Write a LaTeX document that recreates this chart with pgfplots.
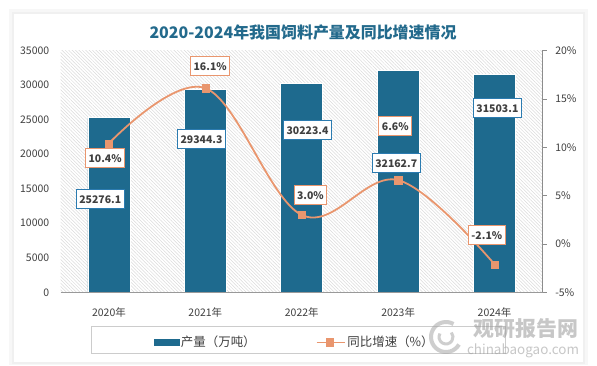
\documentclass[border=0pt]{standalone}
\usepackage{fontspec}
\setmainfont{Noto Sans CJK SC}
\usepackage{pgfplots}
\pgfplotsset{compat=1.18}
\usetikzlibrary{patterns.meta}
\definecolor{barblue}{HTML}{1E6A8E}
\definecolor{lineor}{HTML}{E9966E}
\definecolor{titleblue}{HTML}{236A8C}
\definecolor{lblblue}{HTML}{2B7BB0}
\definecolor{txt}{HTML}{404040}
\begin{document}
\begin{tikzpicture}[x=1bp,y=1bp,
  lbl/.style={fill=white, text=txt, font=\fontsize{10.5}{12}\selectfont\bfseries, inner xsep=3bp, inner ysep=2.5bp, line width=0.9bp, minimum height=19bp},
  yr/.style={font=\fontsize{10.5}{12}\selectfont, text=txt, yshift=-20.5bp}]
\fill[white] (0,0) rectangle (597,365);
\fill[black!3] (9,0) rectangle (588,356);
\fill[black!6] (12,1) rectangle (585,353);
\fill[white] (14,3) rectangle (583,351);
\node[font=\fontsize{16}{18}\selectfont\bfseries, text=titleblue] at (303,332) {2020-2024年我国饲料产量及同比增速情况};
\draw[black!20, line width=0.8bp] (91.5,12) rectangle (505,38.5);

\begin{axis}[name=ax2, at={(63,75)}, anchor=south west, scale only axis, width=482bp, height=242bp,
  xmin=-0.5, xmax=4.5, ymin=-5, ymax=20,
  axis y line*=right, axis x line=none,
  ytick={-5,0,5,10,15,20},
  /pgf/number format/assume math mode=true,
  yticklabel={\pgfmathprintnumber{\tick}\%},
  y axis line style={draw=black!45, line width=0.6bp},
  ytick style={draw=black!45, line width=0.6bp},
  tick align=outside, major tick length=4bp,
  tick label style={font=\fontsize{10.5}{12}\selectfont, text=txt},
  yticklabel style={xshift=5bp},
  axis background/.style={pattern={Lines[angle=-45,distance=2.4bp,line width=0.5bp]}, pattern color=black!14},
  clip=false]
\end{axis}

\begin{axis}[name=ax1, at={(ax2.south west)}, anchor=south west, scale only axis, width=482bp, height=242bp,
  xmin=-0.5, xmax=4.5, ymin=0, ymax=35000, ybar, bar width=42bp,
  ytick={0,5000,...,35000}, scaled y ticks=false,
  /pgf/number format/assume math mode=true,
  /pgf/number format/set thousands separator={},
  axis x line=none, axis y line*=left,
  y axis line style={draw=none},
  major tick length=0pt,
  tick label style={font=\fontsize{10.5}{12}\selectfont, text=txt},
  yticklabel style={xshift=-8bp},
  clip=false]
\addplot[fill=barblue, draw=white, line width=0.6bp] coordinates {(0,25276.1)(1,29344.3)(2,30223.4)(3,32162.7)(4,31503.1)};
\node[lbl, draw=lblblue] at (axis cs:-0.09,13450) {25276.1};
\node[lbl, draw=lblblue] at (axis cs:0.96,22128) {29344.3};
\node[lbl, draw=lblblue] at (axis cs:2.06,23430) {30223.4};
\node[lbl, draw=lblblue] at (axis cs:2.98,18657) {32162.7};
\node[lbl, draw=lblblue] at (axis cs:4.03,26612) {31503.1};
\end{axis}

\begin{axis}[at={(ax2.south west)}, anchor=south west, scale only axis, width=482bp, height=242bp,
  xmin=-0.5, xmax=4.5, ymin=-5, ymax=20,
  axis x line=none, axis y line=none,
  xtick=\empty, ytick=\empty,
  clip=false,
  legend style={at={(rel axis cs:0.186,-0.2066)}, anchor=west, draw=none, fill=none,
    legend columns=2, font=\fontsize{12.5}{14}\selectfont, text=txt,
    /tikz/every even column/.append style={column sep=58bp}},
  legend cell align=left]
\addlegendimage{legend image code/.code={\fill[barblue] (0bp,-3bp) rectangle (25bp,3bp);}}
\addlegendentry{产量（万吨）}
\addplot[lineor, line width=1.8bp, smooth, tension=0.6, mark=square*, mark size=3.6bp,
  mark options={fill=lineor, draw=lineor, line width=0.4bp},
  legend image code/.code={\draw[lineor,line width=1.8bp] (0bp,0bp)--(28bp,0bp); \fill[lineor] (10bp,-3.5bp) rectangle (17bp,3.5bp);}]
  coordinates {(0,10.4)(1,16.1)(2,3.0)(3,6.6)(4,-2.1)};
\addlegendentry{同比增速（\%）}
\node[lbl, draw=lineor] at (axis cs:-0.04,8.84) {10.4\%};
\node[lbl, draw=lineor] at (axis cs:1.05,18.35) {16.1\%};
\node[lbl, draw=lineor] at (axis cs:2.09,5.02) {3.0\%};
\node[lbl, draw=lineor] at (axis cs:2.97,12.15) {6.6\%};
\node[lbl, draw=lineor] at (axis cs:3.92,0.89) {-2.1\%};
\draw[black!40, line width=0.6bp] (rel axis cs:0,0) -- (rel axis cs:1,0);
\node[yr] at (axis cs:0,-5) {2020年};
\node[yr] at (axis cs:1,-5) {2021年};
\node[yr] at (axis cs:2,-5) {2022年};
\node[yr] at (axis cs:3,-5) {2023年};
\node[yr] at (axis cs:4,-5) {2024年};
\end{axis}

\begin{scope}[opacity=0.55]
\draw[black!35, line width=4bp] (446,28) ++(60:15) arc (60:330:15);
\draw[black!35, line width=3bp] (446,28) ++(150:7) arc (150:400:7);
\node[text=black!40, font=\fontsize{21}{24}\selectfont\bfseries] at (526,36) {观研报告网};
\node[text=black!40, font=\fontsize{13.5}{15}\selectfont] at (523,14) {chinabaogao.com};
\end{scope}
\end{tikzpicture}
\end{document}
